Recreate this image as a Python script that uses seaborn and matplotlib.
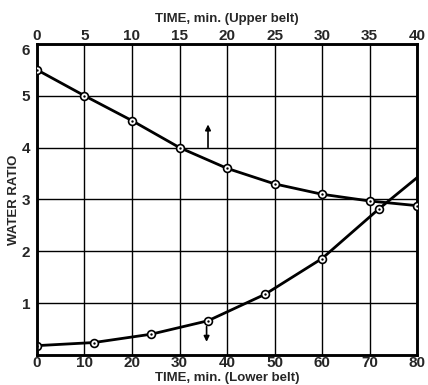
import matplotlib
matplotlib.use("Agg")
import matplotlib.pyplot as plt
import seaborn as sns
import pandas as pd

# Data
upper_time = [0, 5, 10, 15, 20, 25, 30, 35, 40]
upper_ratio = [5.5, 5.0, 4.52, 4.0, 3.6, 3.3, 3.1, 2.97, 2.88]
upper_marked = [True] * 9

lower_time = [0, 12, 24, 36, 48, 60, 72, 80]
lower_ratio = [0.18, 0.24, 0.40, 0.66, 1.17, 1.86, 2.82, 3.42]
lower_marked = [True, True, True, True, True, True, True, False]

upper_ticks = [0, 5, 10, 15, 20, 25, 30, 35, 40]
lower_ticks = [0, 10, 20, 30, 40, 50, 60, 70, 80]
y_ticks = [1, 2, 3, 4, 5, 6]

sns.set_theme(style="white")
plt.rcParams['font.family'] = ['Liberation Sans', 'DejaVu Sans']
plt.rcParams['font.weight'] = 'bold'

fig = plt.figure(figsize=(4.28, 3.85), dpi=100)
ax = fig.add_axes([0.0864, 0.078, 0.888, 0.808])
ax2 = ax.twiny()

up = pd.DataFrame({"t": upper_time, "r": upper_ratio, "m": upper_marked})
lo = pd.DataFrame({"t": lower_time, "r": lower_ratio, "m": lower_marked})

sns.lineplot(data=lo, x="t", y="r", ax=ax, color="black", lw=2.0, zorder=3)
sns.lineplot(data=up, x="t", y="r", ax=ax2, color="black", lw=2.0, zorder=3)

for a, d in ((ax, lo), (ax2, up)):
    dm = d[d["m"]]
    sns.scatterplot(data=dm, x="t", y="r", ax=a, s=32, facecolor="white",
                    edgecolor="black", linewidth=1.2, zorder=4)
    sns.scatterplot(data=dm, x="t", y="r", ax=a, s=3, color="black",
                    edgecolor="black", linewidth=0, zorder=5)

ax.set_xlim(0, 80)
ax.set_ylim(0, 6)
ax2.set_xlim(0, 40)
ax2.set_ylim(0, 6)

ax.set_xticks(lower_ticks)
ax.set_xticklabels([str(t) for t in lower_ticks], fontsize=11, fontweight='bold')
ax.set_yticks(y_ticks)
ax.set_yticklabels([str(t) for t in y_ticks], fontsize=11, fontweight='bold')
ax2.set_xticks(upper_ticks)
ax2.set_xticklabels([str(t) for t in upper_ticks], fontsize=11, fontweight='bold')

ax.tick_params(axis='x', length=0, pad=1)
ax.tick_params(axis='y', length=0, pad=5)
ax2.tick_params(axis='x', length=0, pad=1)
# nudge the "6" label down slightly like the reference
for lbl in ax.get_yticklabels():
    if lbl.get_text() == "6":
        lbl.set_verticalalignment("top")

ax.grid(True, color="black", lw=1.0)
ax2.grid(False)

for a in (ax, ax2):
    for s in a.spines.values():
        s.set_color("black")
        s.set_linewidth(1.8)

ax.set_xlabel("TIME, min. (Lower belt)", fontsize=9.5, fontweight='bold', labelpad=1)
ax2.set_xlabel("TIME, min. (Upper belt)", fontsize=9.5, fontweight='bold', labelpad=5)
ax.set_ylabel("WATER RATIO", fontsize=9.5, fontweight='bold', labelpad=1)

# direction arrows
ax2.annotate("", xy=(18, 4.5), xytext=(18, 3.95),
             arrowprops=dict(arrowstyle="-|>", color="black", lw=1.2, mutation_scale=8))
ax.annotate("", xy=(35.7, 0.2), xytext=(35.7, 0.6),
            arrowprops=dict(arrowstyle="-|>", color="black", lw=1.2, mutation_scale=8))

if ax.get_legend():
    ax.get_legend().remove()

fig.savefig("out.png", dpi=100)
